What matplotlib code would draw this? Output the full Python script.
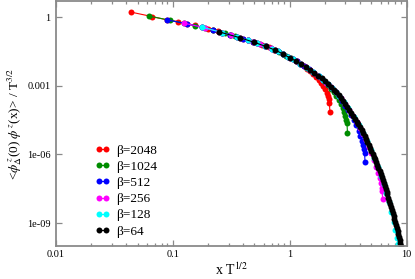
import numpy as np
import matplotlib.pyplot as plt

plt.rcParams['font.family'] = ['Liberation Serif', 'DejaVu Serif']
plt.rcParams['mathtext.fontset'] = 'stix'

betas = [2048, 1024, 512, 256, 128, 64]
colors = ['#ff0000', '#008c00', '#0000ff', '#ff00ff', '#00ffff', '#000000']
labels = ['β=2048', 'β=1024', 'β=512', 'β=256', 'β=128', 'β=64']

x_sites = [2, 3, 4, 5, 6, 7, 8, 9, 10, 11, 12, 14, 16, 18, 20, 22, 24, 26, 28, 30,
           33, 36, 40, 44, 48, 52, 56, 60, 64, 68, 72, 76, 80, 84, 88,
           91, 94, 96, 98, 99, 100]
x_sites_64 = list(range(2, 75))

# log10 of <phi(0) phi(x)> / T^(3/2)
log_corr_2048 = [0.21, 0.02, -0.12, -0.20, -0.30, -0.37, -0.44, -0.51, -0.57, -0.63, -0.68,
                 -0.78, -0.87, -0.95, -1.02, -1.09, -1.15, -1.21, -1.27, -1.33,
                 -1.42, -1.50, -1.62, -1.74, -1.85, -1.94, -2.05, -2.15, -2.26, -2.37, -2.48,
                 -2.60, -2.73, -2.87, -3.03, -3.16, -3.31, -3.44, -3.59, -3.74, -4.13]
log_corr_1024 = [0.04, -0.14, -0.27, -0.38, -0.47, -0.56, -0.65, -0.72, -0.79, -0.85, -0.91,
                 -1.01, -1.11, -1.20, -1.28, -1.36, -1.45, -1.53, -1.61, -1.69,
                 -1.81, -1.92, -2.05, -2.18, -2.31, -2.44, -2.57, -2.71, -2.85, -2.99, -3.13,
                 -3.28, -3.44, -3.62, -3.82, -3.98, -4.17, -4.31, -4.48, -4.65, -5.05]
log_corr_512 = [-0.12, -0.30, -0.44, -0.57, -0.68, -0.78, -0.87, -0.95, -1.02, -1.09, -1.15,
                -1.27, -1.39, -1.50, -1.62, -1.74, -1.85, -1.94, -2.04, -2.13,
                -2.27, -2.40, -2.58, -2.76, -2.93, -3.10, -3.28, -3.47, -3.66, -3.87, -4.07,
                -4.28, -4.50, -4.73, -4.98, -5.18, -5.41, -5.58, -5.78, -5.95, -6.33]
log_corr_256 = [-0.27, -0.47, -0.65, -0.79, -0.91, -1.01, -1.11, -1.20, -1.28, -1.36, -1.45,
                -1.61, -1.78, -1.92, -2.05, -2.18, -2.31, -2.44, -2.56, -2.69,
                -2.87, -3.05, -3.29, -3.55, -3.80, -4.06, -4.32, -4.59, -4.85, -5.13, -5.39,
                -5.67, -5.95, -6.25, -6.55, -6.80, -7.05, -7.24, -7.46, -7.61, -7.95]
log_corr_128 = [-0.44, -0.68, -0.87, -1.02, -1.15, -1.27, -1.39, -1.50, -1.62, -1.74, -1.85,
                -2.04, -2.22, -2.40, -2.58, -2.76, -2.93, -3.10, -3.27, -3.45,
                -3.72, -3.99, -4.35, -4.71, -5.07, -5.43, -5.80, -6.17, -6.55, -6.93, -7.31,
                -7.70, -8.10, -8.51, -8.94, -9.28, -9.65, -9.91, -10.20, -10.42, -10.88]
log_corr_64 = [-0.65, -0.905, -1.11, -1.285, -1.445, -1.61, -1.78, -1.915, -2.05, -2.18,
               -2.31, -2.435, -2.56, -2.685, -2.81, -2.93, -3.05, -3.17, -3.29,
               -3.42, -3.54, -3.67, -3.80, -3.93, -4.055, -4.18, -4.31, -4.44, -4.565,
               -4.69, -4.82, -4.95, -5.075, -5.20, -5.33, -5.46, -5.585, -5.71, -5.84,
               -5.97, -6.095, -6.22, -6.35, -6.48, -6.605, -6.73, -6.86, -6.99, -7.115,
               -7.24, -7.37, -7.50, -7.625, -7.75,
               -7.89, -8.02, -8.15, -8.28, -8.41, -8.54, -8.67, -8.80, -8.94, -9.07,
               -9.20, -9.33, -9.47, -9.60, -9.73, -9.86, -10.00, -10.13, -10.26]

series_x = [x_sites, x_sites, x_sites, x_sites, x_sites, x_sites_64]
series_y = [log_corr_2048, log_corr_1024, log_corr_512, log_corr_256, log_corr_128, log_corr_64]

fig = plt.figure(figsize=(4.15, 2.79), dpi=100)
ax = fig.add_axes([56 / 415, 1 - 246 / 279, 350.5 / 415, 245 / 279])

for beta, xs, ly, c, lab in zip(betas, series_x, series_y, colors, labels):
    u = np.array(xs) / np.sqrt(beta)
    ax.plot(u, 10.0 ** np.array(ly), '-o', color=c, lw=0.8, ms=4.3, mew=0, label=lab)

ax.set_xscale('log')
ax.set_yscale('log')
ax.set_xlim(0.01, 10)
ax.set_ylim(1e-10, 5)

ax.set_xticks([0.01, 0.1, 1, 10])
ax.set_xticklabels(['0.01', '0.1', '1', '10'])
ax.set_yticks([1e-9, 1e-6, 1e-3, 1])
ax.set_yticklabels(['1e-09', '1e-06', '0.001', '1'])
ax.yaxis.set_minor_locator(plt.NullLocator())

grey = '#8a8a8a'
for s in ax.spines.values():
    s.set_color(grey)
    s.set_linewidth(1.3)
ax.tick_params(which='both', direction='in', top=True, right=True, color=grey,
               labelsize=7.5, width=0.9)
ax.tick_params(which='major', length=4.5)
ax.tick_params(which='minor', length=2.2)
ax.tick_params(axis='y', pad=4)
ax.tick_params(axis='x', pad=3)

ax.set_xlabel('x T$^{1/2}$', fontsize=10, labelpad=2)
ax.set_ylabel(r'<$\phi^{\,z}_{\Delta}$(0) $\phi^{\,z}$(x)> / T$^{3/2}$', fontsize=9.5, labelpad=2)

ax.legend(loc='upper left', bbox_to_anchor=(0.111, 0.415), frameon=False, fontsize=9.5,
          numpoints=2, handlelength=1.15, handletextpad=0.45, labelspacing=0.3,
          borderpad=0, borderaxespad=0)

fig.savefig('out.png', dpi=100)
